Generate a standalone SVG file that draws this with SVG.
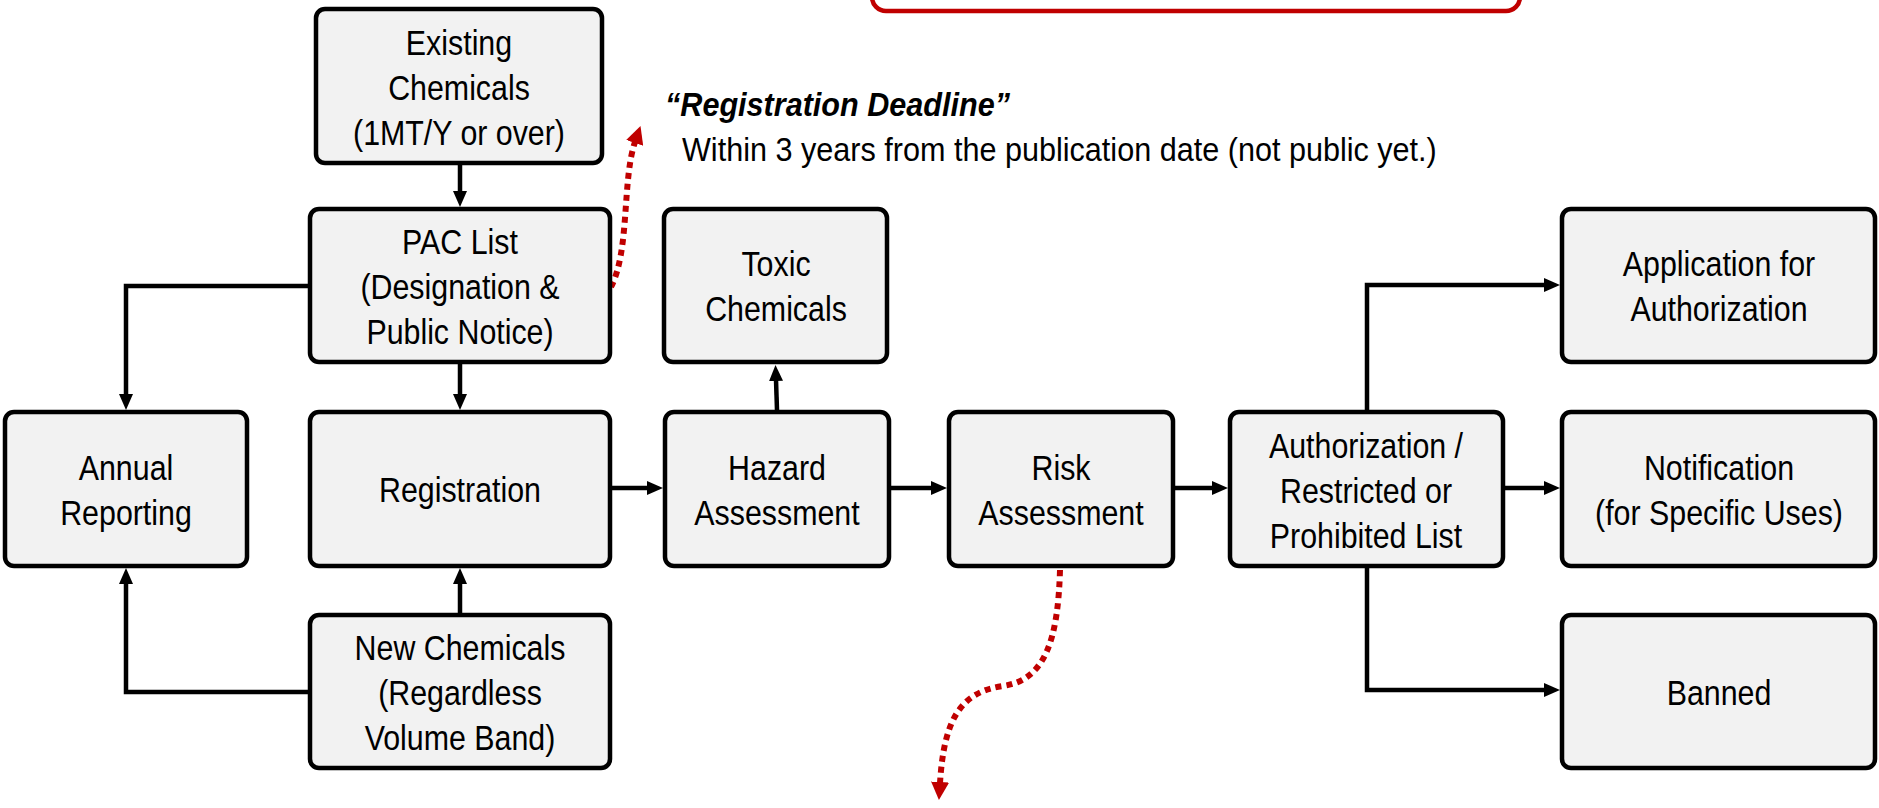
<svg xmlns="http://www.w3.org/2000/svg" width="1879" height="808" viewBox="0 0 1879 808">
<defs>
<style>
.box{fill:#f2f2f2;stroke:#000;stroke-width:4.5}
.t{font-family:"Liberation Sans",Arial,sans-serif;font-size:34.5px;fill:#000;text-anchor:middle}
.n{font-family:"Liberation Sans",Arial,sans-serif;font-size:34px;fill:#000}
.c{fill:none;stroke:#000;stroke-width:4.5;stroke-linejoin:miter}
.r{fill:none;stroke:#c00000;stroke-width:6;stroke-dasharray:6 5}
</style>
<marker id="ah" markerUnits="userSpaceOnUse" markerWidth="16" markerHeight="14" viewBox="0 0 16 14" refX="1" refY="7" orient="auto"><path d="M0,0 L16,7 L0,14 z" fill="#000"/></marker>
<marker id="rh" markerUnits="userSpaceOnUse" markerWidth="18" markerHeight="18" viewBox="0 0 18 18" refX="1" refY="9" orient="auto"><path d="M0,0 L18,9 L0,18 z" fill="#c00000"/></marker>
</defs>
<rect width="1879" height="808" fill="#fff"/>
<rect x="872" y="-40" width="648" height="51" rx="14" fill="none" stroke="#c00000" stroke-width="4.5"/>
<g id="connectors">
<path class="c" d="M460 165 V192" marker-end="url(#ah)"/>
<path class="c" d="M308 286 H126 V395" marker-end="url(#ah)"/>
<path class="c" d="M460 364 V395" marker-end="url(#ah)"/>
<path class="c" d="M460 613 V583" marker-end="url(#ah)"/>
<path class="c" d="M308 692 H126 V583" marker-end="url(#ah)"/>
<path class="c" d="M612 488 H648" marker-end="url(#ah)"/>
<path class="c" d="M777 410 L776 380" marker-end="url(#ah)"/>
<path class="c" d="M891 488 H932" marker-end="url(#ah)"/>
<path class="c" d="M1175 488 H1213" marker-end="url(#ah)"/>
<path class="c" d="M1367 410 V285 H1545" marker-end="url(#ah)"/>
<path class="c" d="M1505 488 H1545" marker-end="url(#ah)"/>
<path class="c" d="M1367 568 V690 H1545" marker-end="url(#ah)"/>
<path class="r" d="M611 287 C630 250, 622 180, 635 142" marker-end="url(#rh)"/>
<path class="r" d="M1060 570 C1058 640, 1045 680, 1003 686 C960 692, 944 720, 940 783" marker-end="url(#rh)"/>
</g>
<g id="existing"><rect class="box" x="316" y="9" width="286" height="154" rx="9"/>
<text class="t" transform="matrix(0.88 0 0 1 459 55)">Existing</text><text class="t" transform="matrix(0.88 0 0 1 459 100)">Chemicals</text><text class="t" transform="matrix(0.88 0 0 1 459 145)">(1MT/Y or over)</text></g>
<g id="pac"><rect class="box" x="310" y="209" width="300" height="153" rx="9"/>
<text class="t" transform="matrix(0.88 0 0 1 460 254)">PAC List</text><text class="t" transform="matrix(0.88 0 0 1 460 299)">(Designation &amp;</text><text class="t" transform="matrix(0.88 0 0 1 460 344)">Public Notice)</text></g>
<g id="toxic"><rect class="box" x="664" y="209" width="223" height="153" rx="9"/>
<text class="t" transform="matrix(0.88 0 0 1 776 276)">Toxic</text><text class="t" transform="matrix(0.88 0 0 1 776 321)">Chemicals</text></g>
<g id="application"><rect class="box" x="1562" y="209" width="313" height="153" rx="9"/>
<text class="t" transform="matrix(0.88 0 0 1 1719 276)">Application for</text><text class="t" transform="matrix(0.88 0 0 1 1719 321)">Authorization</text></g>
<g id="annual"><rect class="box" x="5" y="412" width="242" height="154" rx="9"/>
<text class="t" transform="matrix(0.88 0 0 1 126 480)">Annual</text><text class="t" transform="matrix(0.88 0 0 1 126 525)">Reporting</text></g>
<g id="registration"><rect class="box" x="310" y="412" width="300" height="154" rx="9"/>
<text class="t" transform="matrix(0.88 0 0 1 460 502)">Registration</text></g>
<g id="hazard"><rect class="box" x="665" y="412" width="224" height="154" rx="9"/>
<text class="t" transform="matrix(0.88 0 0 1 777 480)">Hazard</text><text class="t" transform="matrix(0.88 0 0 1 777 525)">Assessment</text></g>
<g id="risk"><rect class="box" x="949" y="412" width="224" height="154" rx="9"/>
<text class="t" transform="matrix(0.88 0 0 1 1061 480)">Risk</text><text class="t" transform="matrix(0.88 0 0 1 1061 525)">Assessment</text></g>
<g id="authorization"><rect class="box" x="1230" y="412" width="273" height="154" rx="9"/>
<text class="t" transform="matrix(0.88 0 0 1 1366 458)">Authorization /</text><text class="t" transform="matrix(0.88 0 0 1 1366 503)">Restricted or</text><text class="t" transform="matrix(0.88 0 0 1 1366 548)">Prohibited List</text></g>
<g id="notification"><rect class="box" x="1562" y="412" width="313" height="154" rx="9"/>
<text class="t" transform="matrix(0.88 0 0 1 1719 480)">Notification</text><text class="t" transform="matrix(0.88 0 0 1 1719 525)">(for Specific Uses)</text></g>
<g id="new"><rect class="box" x="310" y="615" width="300" height="153" rx="9"/>
<text class="t" transform="matrix(0.88 0 0 1 460 660)">New Chemicals</text><text class="t" transform="matrix(0.88 0 0 1 460 705)">(Regardless</text><text class="t" transform="matrix(0.88 0 0 1 460 750)">Volume Band)</text></g>
<g id="banned"><rect class="box" x="1562" y="615" width="313" height="153" rx="9"/>
<text class="t" transform="matrix(0.88 0 0 1 1719 705)">Banned</text></g>
<g id="deadline-note">
<text class="n" font-weight="bold" font-style="italic" transform="matrix(0.9 0 0 1 665 116)">“Registration Deadline”</text>
<text class="n" transform="matrix(0.9 0 0 1 682 161)">Within 3 years from the publication date (not public yet.)</text>
</g>
</svg>
